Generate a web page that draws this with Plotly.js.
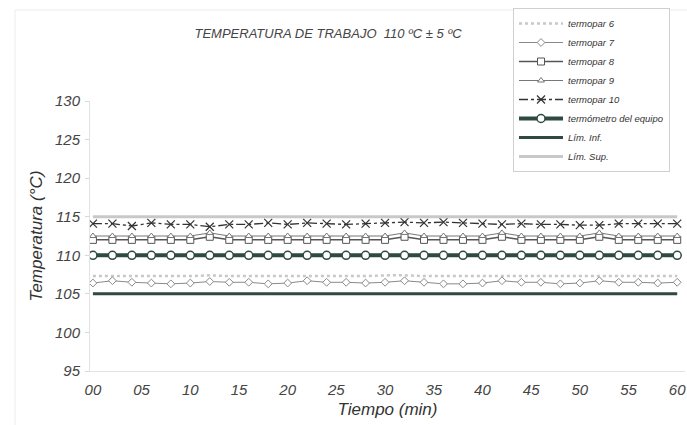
<!DOCTYPE html>
<html><head><meta charset="utf-8">
<script src="https://cdn.plot.ly/plotly-3.0.1.min.js"></script>
<style>html,body{margin:0;padding:0;background:#fff;}#chart{width:687px;height:425px;}</style>
</head><body><div id="chart"></div>
<script>
const tiempo = [0,2,4,6,8,10,12,14,16,18,20,22,24,26,28,30,32,34,36,38,40,42,44,46,48,50,52,54,56,58,60];
const termopar6 = [107.3,107.3,107.3,107.3,107.3,107.3,107.4,107.3,107.3,107.3,107.3,107.3,107.3,107.3,107.3,107.4,107.4,107.3,107.3,107.3,107.3,107.3,107.3,107.3,107.3,107.3,107.3,107.3,107.3,107.3,107.3];
const termopar7 = [106.4,106.7,106.5,106.4,106.3,106.4,106.6,106.5,106.5,106.3,106.4,106.7,106.5,106.5,106.4,106.5,106.7,106.5,106.3,106.3,106.4,106.7,106.5,106.5,106.3,106.4,106.7,106.5,106.5,106.4,106.5];
const termopar8 = [112.0,112.0,112.0,112.0,112.0,112.0,112.4,112.0,112.0,112.0,112.0,112.0,112.0,112.0,112.0,112.0,112.4,112.0,112.0,112.0,112.0,112.4,112.0,112.0,112.0,112.0,112.4,112.0,112.0,112.0,112.0];
const termopar9 = [112.5,112.5,112.5,112.5,112.5,112.5,112.9,112.5,112.5,112.5,112.5,112.5,112.5,112.5,112.5,112.5,112.9,112.5,112.5,112.5,112.5,112.9,112.5,112.5,112.5,112.5,112.9,112.5,112.5,112.5,112.5];
const termopar10 = [114.1,114.1,113.8,114.2,114.0,114.0,113.7,114.0,114.0,114.2,114.0,114.2,114.1,114.0,114.1,114.2,114.3,114.2,114.3,114.2,114.1,114.0,114.1,114.0,114.0,113.9,113.9,114.1,114.1,114.1,114.1];
const termometro = [110,110,110,110,110,110,110,110,110,110,110,110,110,110,110,110,110,110,110,110,110,110,110,110,110,110,110,110,110,110,110];
const limTiempo = [0,60];
const limInf = [105,105];
const limSup = [115,115];
const xTickVals = [0,5,10,15,20,25,30,35,40,45,50,55,60];
const xTickText = ["00","05","10","15","20","25","30","35","40","45","50","55","60"];
const yTickVals = [95,100,105,110,115,120,125,130];

const dark = '#2e4a42';
const traces = [
  {x:tiempo, y:termopar6, name:'termopar 6', mode:'lines', line:{color:'#c8c8c8', width:2.5, dash:'dot'}},
  {x:tiempo, y:termopar7, name:'termopar 7', mode:'lines+markers', line:{color:'#8a8a8a', width:1},
   marker:{symbol:'diamond', size:6, color:'#fff', line:{color:'#8a8a8a', width:1}}},
  {x:tiempo, y:termopar8, name:'termopar 8', mode:'lines+markers', line:{color:'#555', width:1.5},
   marker:{symbol:'square', size:7, color:'#fff', line:{color:'#555', width:1}}},
  {x:tiempo, y:termopar9, name:'termopar 9', mode:'lines+markers', line:{color:'#777', width:1},
   marker:{symbol:'triangle-up', size:6, color:'#fff', line:{color:'#777', width:1}}},
  {x:tiempo, y:termopar10, name:'termopar 10', mode:'lines+markers', line:{color:'#333', width:1.3, dash:'dashdot'},
   marker:{symbol:'x-thin-open', size:8, color:'#333', line:{color:'#333', width:1.2}}},
  {x:tiempo, y:termometro, name:'termómetro del equipo', mode:'lines+markers', line:{color:dark, width:4},
   marker:{symbol:'circle', size:8, color:'#fff', line:{color:dark, width:1.5}}},
  {x:limTiempo, y:limInf, name:'Lím. Inf.', mode:'lines', line:{color:dark, width:3}},
  {x:limTiempo, y:limSup, name:'Lím. Sup.', mode:'lines', line:{color:'#c8c8c8', width:3}}
];

const fontFam = '"Liberation Sans", Arial, sans-serif';
const layout = {
  width:687, height:425,
  margin:{l:90, r:2, t:101, b:54},
  paper_bgcolor:'#fff', plot_bgcolor:'#fff',
  font:{family:fontFam, color:'#444', style:'italic'},
  title:{text:'TEMPERATURA DE TRABAJO  110 ºC ± 5 ºC', x:328/687, xref:'container', xanchor:'center',
         y:1-33/425, yref:'container', yanchor:'middle',
         font:{family:fontFam, size:13, color:'#444', style:'italic'}},
  xaxis:{range:[-0.3,60.8], tickmode:'array', tickvals:xTickVals, ticktext:xTickText,
         showgrid:false, zeroline:false, showline:true, linecolor:'#e2e2e2', linewidth:1,
         ticks:'', ticklabelstandoff:5, tickfont:{size:15, color:'#444', style:'italic'},
         title:{text:'Tiempo (min)', font:{size:17, color:'#333', style:'italic'}, standoff:6}},
  yaxis:{range:[95,130], tickmode:'array', tickvals:yTickVals,
         showgrid:false, zeroline:false, showline:true, linecolor:'#e2e2e2', linewidth:1,
         ticks:'outside', ticklen:4, tickcolor:'#d8d8d8', ticklabelstandoff:2,
         tickfont:{size:15, color:'#444', style:'italic'},
         title:{text:'Temperatura (°C)', font:{size:17, color:'#333', style:'italic'}, standoff:8}},
  legend:{x:(513-90)/595, xanchor:'left', y:(371-8)/270, yanchor:'top',
          bgcolor:'#fff', bordercolor:'#d0d0d0', borderwidth:1,
          font:{size:9.5, color:'#333', style:'italic'}, itemwidth:44, tracegroupgap:0},
  shapes:[{type:'rect', xref:'paper', yref:'paper', x0:-75/595, x1:1.01, y0:-0.25, y1:(371-10)/270,
           line:{color:'#ececec', width:1}, fillcolor:'rgba(0,0,0,0)', layer:'below'}],
  showlegend:true
};
Plotly.newPlot('chart', traces, layout, {staticPlot:true, displayModeBar:false});
</script></body></html>
